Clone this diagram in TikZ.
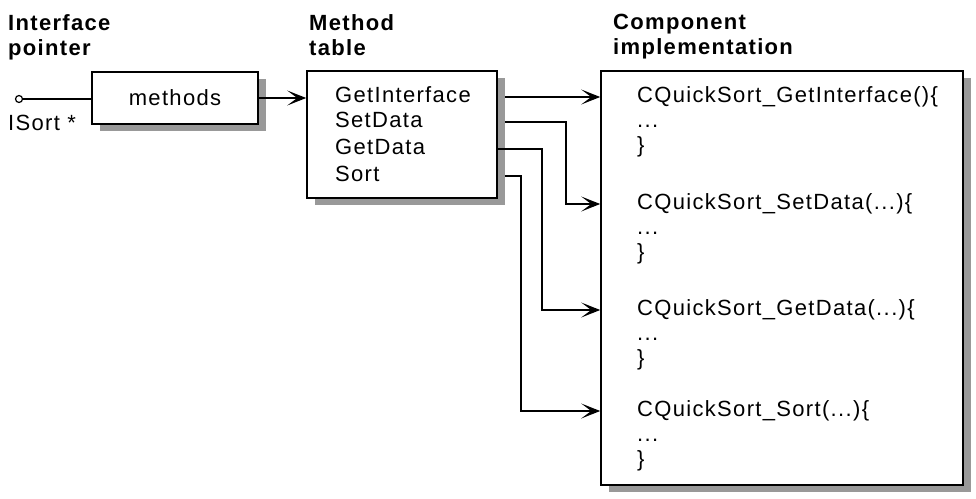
\documentclass[tikz,border=0pt]{standalone}
\usepackage{fontspec}
\setmainfont[LetterSpace=6]{Liberation Sans}
\usepackage{tikz}
\usetikzlibrary{arrows.meta,shadows}

\begin{document}
\begin{tikzpicture}[x=1pt,y=-1pt,>={Stealth[length=19pt,width=15pt,inset=10pt]}]
    \definecolor{myshade}{RGB}{153,153,153}
    \fontsize{22pt}{25pt}\selectfont  % text size
    \tikzstyle{box}=[rectangle,draw,line width=1.6pt,fill=white,drop shadow={shadow xshift=8pt,shadow yshift=-7pt,fill=myshade,opacity=1}]  % boxes with grey shadow
    \tikzstyle{title}=[align=left,anchor=north west,inner sep=0pt,font=\bfseries]  % column headings
    \tikzstyle{txt}=[anchor=west,inner sep=0pt,text height=15pt,text depth=4pt]  % one line of text
    \tikzstyle{link}=[line width=1.4pt]  % connectors
    \newcommand{\threedots}{.\kern1.4pt.\kern1.4pt.}

    \useasboundingbox (0,0) rectangle (976,498);

    % headings
    \node[title](hptr) at (8,14){Interface\\pointer};
    \node[title](htbl) at (309,14){Method\\table};
    \node[title](hcomp) at (613,14){Component\\implementation};

    % boxes
    \node[box,minimum width=166pt,minimum height=52pt](meth) at (175,98){methods};
    \node[box,minimum width=190pt,minimum height=127pt](tbl) at (402,134.5){};
    \node[box,minimum width=362pt,minimum height=414pt](comp) at (782,278){};

    % interface pointer
    \node[circle,draw,line width=1.2pt,inner sep=0pt,minimum size=7pt](ptr) at (19,99){};
    \node[txt](isort) at (8,125){ISort *};

    % method table entries
    \node[txt](mgi) at (335,97){GetInterface};
    \node[txt](msd) at (335,122){SetData};
    \node[txt](mgd) at (335,149){GetData};
    \node[txt](mst) at (335,176){Sort};

    % implementations
    \foreach \nm/\y/\fn in {gi/97/{GetInterface()},sd/204/{SetData(\threedots)},gd/310/{GetData(\threedots)},st/411/{Sort(\threedots)}}{
        \node[txt](c\nm) at (637,\y){CQuickSort\_\fn\{};
        \node[txt](c\nm-dots) at (637,\y+25){\threedots};
        \node[txt](c\nm-end) at (637,\y+50){\}};
    }

    % lines
    \draw[link](ptr)--(ptr -| meth.west);
    \draw[link,->](meth.east)--(meth.east -| tbl.west);
    \draw[link,->]([xshift=7pt]tbl.east |- mgi)--(mgi -| comp.west);
    \draw[link,->]([xshift=7pt]tbl.east |- msd)--++(61,0)|-(csd -| comp.west);
    \draw[link,->](tbl.east |- mgd)--++(44,0)|-(cgd -| comp.west);
    \draw[link,->]([xshift=7pt]tbl.east |- mst)--++(16,0)|-(cst -| comp.west);
\end{tikzpicture}
\end{document}
